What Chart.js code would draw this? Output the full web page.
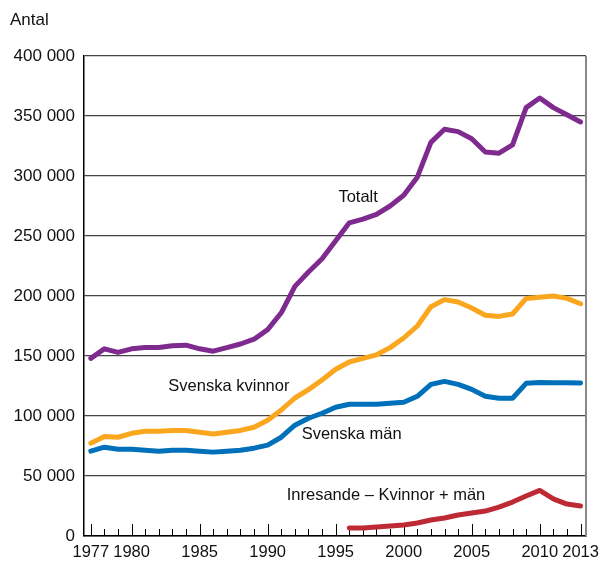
<!DOCTYPE html>
<html>
<head>
<meta charset="utf-8">
<script src="https://cdn.jsdelivr.net/npm/chart.js@4.4.0/dist/chart.umd.min.js"></script>
<style>
  html, body { margin: 0; padding: 0; background: #fff; }
  #wrap { width: 600px; height: 562px; }
</style>
</head>
<body>
<div id="wrap"><canvas id="chart"></canvas></div>
<script>
var years = [1977, 1978, 1979, 1980, 1981, 1982, 1983, 1984, 1985, 1986, 1987, 1988,
  1989, 1990, 1991, 1992, 1993, 1994, 1995, 1996, 1997, 1998, 1999, 2000, 2001,
  2002, 2003, 2004, 2005, 2006, 2007, 2008, 2009, 2010, 2011, 2012, 2013];

var totalt = [148000, 156000, 153000, 156000, 157000, 157000, 158500, 159000, 156000,
  154000, 157000, 160000, 164000, 172000, 186000, 208000, 220000, 231000, 246000,
  261000, 264000, 268000, 275000, 284000, 299000, 328000, 339000, 337000, 331000,
  320000, 319000, 326000, 357000, 365000, 357000, 351000, 345000];

var kvinnor = [77300, 83000, 82300, 85600, 87300, 87300, 88000, 88000, 86500, 85000,
  86500, 88000, 90600, 96500, 105000, 115000, 122000, 130000, 139000, 145000, 148000,
  151000, 157000, 165000, 175000, 191000, 197000, 195000, 190000, 184000, 183000,
  185000, 198000, 199000, 200000, 198000, 193500];

var man = [70700, 74000, 72300, 72300, 71500, 70700, 71500, 71500, 70700, 69900, 70700,
  71500, 73200, 75700, 82300, 92300, 98100, 102300, 107300, 109800, 109800, 109800,
  110600, 111400, 116400, 126400, 128900, 126400, 122200, 116400, 114800, 114800,
  127200, 128000, 127800, 127800, 127500];

var inresandeYears = [1996, 1997, 1998, 1999, 2000, 2001, 2002, 2003, 2004, 2005, 2006,
  2007, 2008, 2009, 2010, 2011, 2012, 2013];
var inresande = [6600, 6700, 7500, 8300, 9100, 10800, 13300, 15000, 17500, 19100, 20800,
  24100, 28300, 33300, 38000, 31000, 26600, 25000];

var labeledYears = [1977, 1980, 1985, 1990, 1995, 2000, 2005, 2010, 2013];

// series name labels, placed at year / value
var seriesNames = ["Totalt", "Svenska kvinnor", "Svenska män", "Inresande \u2013 Kvinnor + män"];
var nameYears = [1995.2, 1982.7, 1992.5, 1991.4];
var nameValues = [282000, 124700, 84800, 34100];

var FONT = "'Liberation Sans', Arial, Helvetica, sans-serif";

function toPoints(xs, ys) {
  return xs.map(function (x, i) { return { x: x, y: ys[i] }; });
}

function lineSet(label, data, color) {
  return {
    label: label,
    data: data,
    borderColor: color,
    backgroundColor: color,
    borderWidth: 5,
    pointRadius: 0,
    tension: 0,
    borderCapStyle: "round",
    borderJoinStyle: "round"
  };
}

var extras = {
  id: "extras",
  beforeDatasetsDraw: function (chart) {
    var ctx = chart.ctx;
    var xs = chart.scales.x;
    var area = chart.chartArea;
    ctx.save();
    // inward year ticks
    ctx.strokeStyle = "#000";
    ctx.lineWidth = 1;
    years.forEach(function (y) {
      var px = Math.round(xs.getPixelForValue(y)) + 0.5;
      var len = labeledYears.indexOf(y) >= 0 ? 12 : 7;
      ctx.beginPath();
      ctx.moveTo(px, area.bottom);
      ctx.lineTo(px, area.bottom - len);
      ctx.stroke();
    });
    // right border
    ctx.strokeStyle = "#888";
    ctx.lineWidth = 2;
    ctx.beginPath();
    ctx.moveTo(area.right, area.top);
    ctx.lineTo(area.right, area.bottom);
    ctx.stroke();
    ctx.restore();
  },
  afterDraw: function (chart) {
    var ctx = chart.ctx;
    var xs = chart.scales.x, ys = chart.scales.y;
    ctx.save();
    ctx.fillStyle = "#111";
    ctx.font = "16.5px " + FONT;
    ctx.textAlign = "left";
    ctx.textBaseline = "middle";
    seriesNames.forEach(function (n, i) {
      ctx.fillText(n, xs.getPixelForValue(nameYears[i]), ys.getPixelForValue(nameValues[i]));
    });
    ctx.font = "17px " + FONT;
    ctx.fillText("Antal", 10, 20);
    ctx.restore();
  }
};

var config = {
  type: "line",
  data: {
    datasets: [
      lineSet("Totalt", toPoints(years, totalt), "#7F2A8F"),
      lineSet("Svenska kvinnor", toPoints(years, kvinnor), "#FAA61E"),
      lineSet("Svenska män", toPoints(years, man), "#0070BA"),
      lineSet("Inresande", toPoints(inresandeYears, inresande), "#BE2A33")
    ]
  },
  options: {
    responsive: true,
    maintainAspectRatio: false,
    animation: false,
    layout: { padding: { top: 56, right: 14, left: 0, bottom: 0 } },
    plugins: {
      legend: { display: false },
      tooltip: { enabled: false }
    },
    scales: {
      x: {
        type: "linear",
        min: 1976.5,
        max: 2013.4,
        afterBuildTicks: function (scale) {
          scale.ticks = years.map(function (y) { return { value: y }; });
        },
        afterFit: function (scale) {
          scale.height = 26;
          scale.paddingLeft = 0;
          scale.paddingRight = 0;
        },
        grid: { display: false, drawTicks: false },
        border: { display: true, color: "#000", width: 1.5 },
        ticks: {
          autoSkip: false,
          maxRotation: 0,
          padding: 7,
          color: "#111",
          font: { family: FONT, size: 16.5 },
          callback: function (v) {
            return labeledYears.indexOf(v) >= 0 ? String(v) : "";
          }
        }
      },
      y: {
        min: 0,
        max: 400000,
        afterFit: function (scale) { scale.width = 84; },
        grid: { color: "#444", lineWidth: 1.2, drawTicks: false },
        border: { display: true, color: "#000", width: 1.5 },
        ticks: {
          stepSize: 50000,
          padding: 9,
          color: "#111",
          font: { family: FONT, size: 17 },
          callback: function (v) {
            return v === 0 ? "0" : String(v).replace(/(\d)(?=(\d{3})+$)/g, "$1 ");
          }
        }
      }
    }
  },
  plugins: [extras]
};

var chart = new Chart(document.getElementById("chart"), config);
</script>
</body>
</html>
